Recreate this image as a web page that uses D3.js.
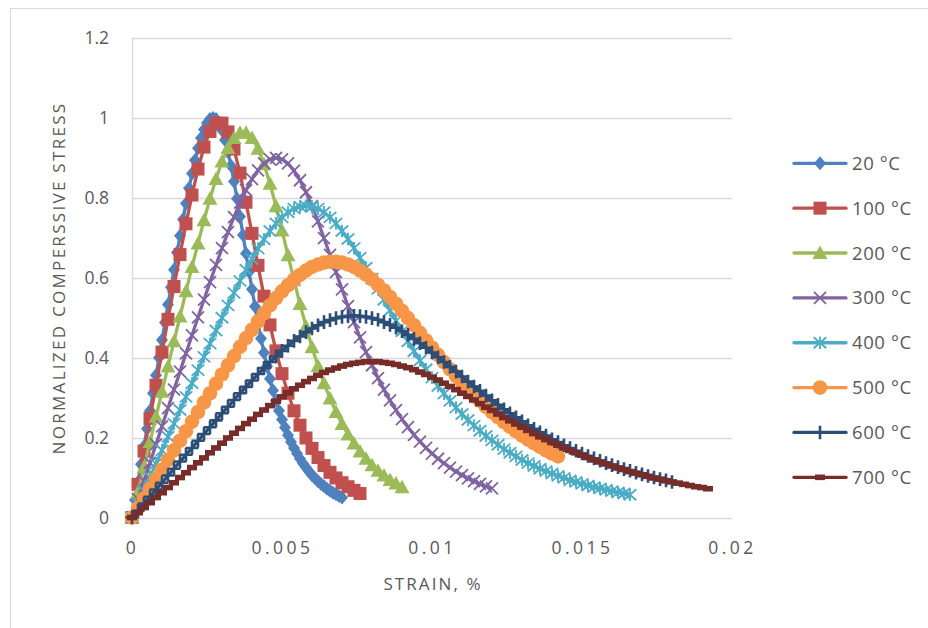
<!DOCTYPE html>
<html>
<head>
<meta charset="utf-8">
<script src="https://cdn.jsdelivr.net/npm/d3@7"></script>
<style>
  body { margin: 0; background: #fff; }
  text { font-family: "Open Sans", "Liberation Sans", sans-serif; fill: #595959; }
</style>
</head>
<body>
<svg id="chart" width="928" height="628"></svg>
<script>
// normalized stress values, one array per temperature
// 20 C sampled every 0.0001 strain, the others every 0.0002
const s20 = [0, .044, .089, .133, .178, .222, .267, .311, .356, .400, .444, .488, .533, .576, .620, .663, .705, .746, .786, .824,
  .861, .894, .924, .950, .971, .987, .997, 1.000, .997, .986, .969, .945, .915, .880, .841, .798, .753, .707, .661, .615,
  .571, .528, .487, .448, .412, .378, .347, .318, .292, .267, .245, .225, .206, .189, .174, .160, .147, .135, .125, .115,
  .106, .098, .091, .084, .078, .072, .067, .062, .058, .054, .050];
const s100 = [0, .083, .166, .248, .331, .414, .496, .578, .658, .735, .807, .872, .927, .966, .987, .987, .965, .922, .862, .789,
  .711, .631, .554, .482, .417, .360, .311, .267, .231, .199, .173, .150, .130, .113, .099, .087, .077, .068, .060];
const s200 = [0, .063, .126, .189, .252, .315, .378, .441, .503, .566, .627, .686, .744, .798, .847, .891, .925, .950, .963, .963,
  .950, .923, .884, .835, .779, .718, .656, .594, .534, .478, .426, .379, .336, .298, .264, .234, .208, .185, .165, .147,
  .131, .117, .105, .094, .085, .076];
const s300 = [0, .046, .091, .137, .183, .228, .274, .320, .365, .411, .456, .501, .545, .589, .632, .674, .714, .752, .788, .819,
  .847, .869, .886, .896, .900, .896, .886, .868, .844, .814, .779, .741, .699, .657, .614, .571, .529, .489, .451, .414,
  .381, .349, .320, .293, .269, .246, .226, .207, .190, .174, .160, .147, .136, .125, .115, .106, .098, .091, .084, .078, .073];
const s400 = [0, .034, .067, .101, .135, .168, .202, .235, .269, .302, .336, .369, .402, .435, .468, .500, .531, .562, .592, .620,
  .647, .673, .696, .717, .736, .751, .764, .773, .778, .780, .778, .773, .764, .751, .736, .717, .697, .674, .650, .625,
  .598, .572, .545, .518, .492, .466, .441, .416, .393, .371, .350, .329, .310, .292, .275, .259, .244, .230, .217, .204,
  .193, .182, .171, .162, .153, .144, .136, .129, .122, .116, .110, .104, .099, .093, .089, .084, .080, .076, .073, .069,
  .066, .063, .060, .057];
const s500 = [0, .024, .048, .072, .096, .120, .144, .168, .192, .216, .240, .264, .288, .311, .335, .358, .381, .404, .427, .449,
  .470, .491, .511, .531, .549, .566, .581, .595, .607, .618, .627, .633, .638, .640, .640, .638, .633, .627, .618, .608,
  .596, .582, .568, .552, .535, .517, .499, .481, .462, .443, .425, .407, .389, .371, .354, .338, .322, .306, .292, .277,
  .264, .251, .239, .227, .216, .205, .195, .186, .177, .168, .160, .153];
const s600 = [0, .017, .035, .052, .070, .087, .105, .122, .140, .157, .174, .192, .209, .226, .243, .261, .277, .294, .311, .327,
  .343, .359, .374, .389, .403, .417, .430, .442, .453, .464, .473, .481, .489, .494, .499, .502, .504, .505, .504, .502,
  .499, .495, .489, .482, .475, .466, .457, .447, .436, .425, .413, .401, .389, .377, .365, .353, .340, .328, .317, .305,
  .293, .282, .271, .261, .251, .241, .231, .222, .213, .205, .196, .189, .181, .174, .167, .160, .154, .148, .142, .136,
  .131, .126, .121, .117, .112, .108, .104, .100, .096, .093, .089];
const s700 = [0, .012, .025, .037, .050, .062, .075, .087, .100, .112, .125, .137, .149, .162, .174, .186, .199, .211, .223, .235,
  .246, .258, .269, .280, .291, .302, .312, .322, .331, .340, .348, .356, .363, .369, .374, .379, .383, .386, .388, .390,
  .390, .390, .388, .386, .383, .379, .375, .370, .364, .358, .351, .344, .336, .328, .320, .311, .303, .294, .285, .276,
  .268, .259, .250, .242, .234, .226, .218, .210, .202, .195, .188, .181, .174, .168, .162, .156, .150, .144, .139, .134,
  .129, .124, .120, .115, .111, .107, .103, .099, .096, .092, .089, .086, .083, .080, .077, .075, .072];

const seriesNames = ["20 °C", "100 °C", "200 °C", "300 °C", "400 °C", "500 °C", "600 °C", "700 °C"];
const seriesValues = [s20, s100, s200, s300, s400, s500, s600, s700];
const strainSteps = [0.0001, 0.0002, 0.0002, 0.0002, 0.0002, 0.0002, 0.0002, 0.0002];
const colors = ["#4F81BD", "#C0504D", "#9BBB59", "#8064A2", "#4BACC6", "#F79646", "#2C4D75", "#772C2A"];
const markers = ["diamond", "square", "triangle", "x", "star", "circle", "plus", "dash"];

const xTicks = [0, 0.005, 0.01, 0.015, 0.02];
const xTickLabels = ["0", "0.005", "0.01", "0.015", "0.02"];
const yTicks = [0, 0.2, 0.4, 0.6, 0.8, 1, 1.2];
const yTickLabels = ["0", "0.2", "0.4", "0.6", "0.8", "1", "1.2"];

const svg = d3.select("#chart");

// outer chart border
svg.append("rect")
    .attr("x", 10.5).attr("y", 8.5)
    .attr("width", 940).attr("height", 640)
    .attr("fill", "#fff")
    .attr("stroke", "#D9D9D9");

const x = d3.scaleLinear().domain([0, 0.02]).range([132, 732]);
const y = d3.scaleLinear().domain([0, 1.2]).range([517.5, 38]);

// gridlines
svg.append("g")
    .selectAll("line")
    .data(yTicks)
    .enter()
    .append("line")
    .attr("x1", x(0)).attr("x2", x(0.02))
    .attr("y1", d => Math.round(y(d)) + 0.5)
    .attr("y2", d => Math.round(y(d)) + 0.5)
    .attr("stroke", "#D9D9D9")
    .attr("stroke-width", 1.3);

svg.append("line")
    .attr("x1", x(0) + 0.5).attr("x2", x(0) + 0.5)
    .attr("y1", y(1.2)).attr("y2", y(0))
    .attr("stroke", "#D9D9D9")
    .attr("stroke-width", 1.3);

// axes, labels only
const yAxis = svg.append("g")
    .attr("transform", `translate(${x(0) - 20},0)`)
    .call(d3.axisLeft(y).tickValues(yTicks).tickSize(0)
        .tickFormat((d, i) => yTickLabels[i]));
yAxis.select(".domain").remove();
yAxis.selectAll("text")
    .attr("dx", 0)
    .style("font-size", "17.5px")
    .style("font-family", "'Open Sans', sans-serif")
    .attr("fill", "#595959");

const xAxis = svg.append("g")
    .attr("transform", `translate(0,${y(0) + 21})`)
    .call(d3.axisBottom(x).tickValues(xTicks).tickSize(0)
        .tickFormat((d, i) => xTickLabels[i]));
xAxis.select(".domain").remove();
xAxis.selectAll("text")
    .style("font-size", "17.5px")
    .style("letter-spacing", "3.5px")
    .style("font-family", "'Open Sans', sans-serif")
    .attr("fill", "#595959");

svg.append("text")
    .attr("transform", "translate(65,278) rotate(-90)")
    .attr("text-anchor", "middle")
    .style("font-size", "17px")
    .style("letter-spacing", "2.3px")
    .text("NORMALIZED COMPERSSIVE STRESS");

svg.append("text")
    .attr("x", 433).attr("y", 590)
    .attr("text-anchor", "middle")
    .style("font-size", "17px")
    .style("letter-spacing", "2.1px")
    .text("STRAIN, %");

// marker shapes
function drawMarker(g, type, color) {
    if (type === "diamond") {
        g.append("path").attr("d", "M0,-7L6,0L0,7L-6,0Z").attr("fill", color);
    } else if (type === "square") {
        g.append("rect").attr("x", -6.5).attr("y", -6.5).attr("width", 13).attr("height", 13).attr("fill", color);
    } else if (type === "triangle") {
        g.append("path").attr("d", "M0,-7.5L7.5,6L-7.5,6Z").attr("fill", color);
    } else if (type === "x") {
        g.append("path").attr("d", "M-6,-6L6,6M6,-6L-6,6").attr("stroke", color).attr("stroke-width", 1.8);
    } else if (type === "star") {
        g.append("path").attr("d", "M-6.3,-5.5L6.3,5.5M6.3,-5.5L-6.3,5.5M0,-6.3L0,6.3").attr("stroke", color).attr("stroke-width", 1.8);
    } else if (type === "circle") {
        g.append("circle").attr("r", 7.3).attr("fill", color);
    } else if (type === "plus") {
        g.append("path").attr("d", "M-6.5,0L6.5,0M0,-6.8L0,6.8").attr("stroke", color).attr("stroke-width", 2.6);
    } else if (type === "dash") {
        g.append("rect").attr("x", -5).attr("y", -2.8).attr("width", 10).attr("height", 5.6).attr("fill", color);
    }
}

const line = d3.line()
    .x(d => x(d[0]))
    .y(d => y(d[1]));

const plot = svg.append("g");

for (let i = 0; i < seriesValues.length; i++) {
    const pts = seriesValues[i].map((v, k) => [k * strainSteps[i], v]);
    const sg = plot.append("g");

    sg.append("path")
        .datum(pts)
        .attr("d", line)
        .attr("fill", "none")
        .attr("stroke", colors[i])
        .attr("stroke-width", 3.3)
        .attr("stroke-linejoin", "round");

    sg.selectAll("g.m")
        .data(pts)
        .enter()
        .append("g")
        .attr("class", "m")
        .attr("transform", d => `translate(${x(d[0])},${y(d[1])})`)
        .each(function() {
            drawMarker(d3.select(this), markers[i], colors[i]);
        });
}

// legend
const legend = svg.append("g");
for (let i = 0; i < seriesNames.length; i++) {
    const ly = 163.3 + i * 44.86;
    legend.append("line")
        .attr("x1", 794).attr("x2", 846)
        .attr("y1", ly).attr("y2", ly)
        .attr("stroke", colors[i])
        .attr("stroke-width", 3.3)
        .attr("stroke-linecap", "round");
    const mg = legend.append("g").attr("transform", `translate(820,${ly})`);
    drawMarker(mg, markers[i], colors[i]);
    legend.append("text")
        .attr("x", 852).attr("y", ly + 6.5)
        .style("font-size", "18.5px")
        .style("letter-spacing", "0.6px")
        .text(seriesNames[i]);
}
</script>
</body>
</html>
